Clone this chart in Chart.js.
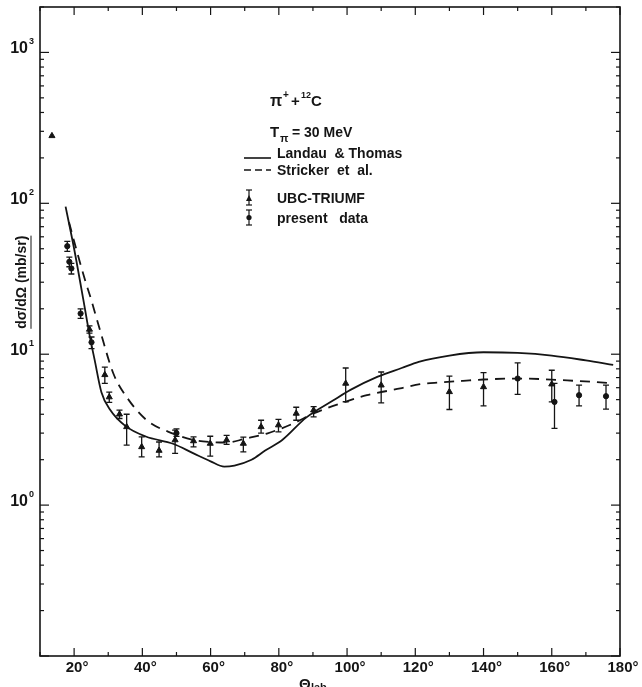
<!DOCTYPE html>
<html>
<head>
<meta charset="utf-8">
<script src="https://cdn.jsdelivr.net/npm/chart.js@4"></script>
<style>
html, body { margin: 0; padding: 0; background: #fff; }
</style>
</head>
<body>
<canvas id="chart" width="642" height="687"></canvas>
<script>
// courbe Landau & Thomas (trait plein)
const landauAngles = [17.5, 20, 22.7, 24.5, 26, 28, 30.5, 35, 41, 49, 55, 60, 64, 67, 72, 76, 81, 88, 96, 101, 109, 116, 121, 130, 140, 150, 160, 170, 178];
const landauValues = [95, 50, 23, 13.5, 9.2, 5.6, 4.3, 3.35, 2.85, 2.55, 2.2, 1.95, 1.8, 1.83, 2.0, 2.3, 2.7, 3.8, 4.95, 5.8, 7.1, 8.1, 8.9, 9.8, 10.3, 10.2, 9.8, 9.1, 8.5];

// courbe Stricker et al. (tirets)
const strickerAngles = [18.5, 20, 23.2, 25, 27.6, 31.5, 35.4, 41.3, 49, 55, 60, 65, 70, 76.5, 84.3, 90.2, 98, 105.8, 115.6, 121.4, 127.3, 134, 140, 150, 157.6, 164.5, 172.3, 178];
const strickerValues = [75, 56, 31, 23, 14.4, 7.45, 5.2, 3.65, 2.98, 2.7, 2.62, 2.6, 2.75, 2.98, 3.48, 4.05, 4.71, 5.35, 5.93, 6.33, 6.5, 6.66, 6.8, 6.9, 6.83, 6.7, 6.55, 6.4];

// UBC-TRIUMF (triangles)
const ubcAngles = [13.5, 24.5, 29, 30.3, 33.3, 35.4, 39.8, 44.9, 49.6, 55, 59.9, 64.7, 69.6, 74.8, 79.9, 85.1, 90.2, 99.6, 110, 130, 140, 160];
const ubcValues = [280, 14.6, 7.3, 5.2, 4.0, 3.3, 2.43, 2.3, 2.7, 2.66, 2.56, 2.7, 2.56, 3.3, 3.39, 4.05, 4.26, 6.4, 6.23, 5.63, 6.07, 6.33];
const ubcLow = [280, 13.8, 6.4, 4.8, 3.75, 2.5, 2.09, 2.09, 2.2, 2.43, 2.11, 2.53, 2.25, 3.0, 3.06, 3.65, 3.84, 4.84, 4.76, 4.3, 4.55, 4.83];
const ubcHigh = [280, 15.4, 8.2, 5.6, 4.26, 4.0, 2.83, 2.62, 3.14, 2.83, 2.86, 2.9, 2.82, 3.65, 3.7, 4.45, 4.5, 8.1, 7.62, 7.15, 7.56, 7.83];

// present data (points)
const presentAngles = [18, 18.6, 19.2, 21.9, 25.1, 50, 150, 160.8, 168, 175.9];
const presentValues = [52, 41, 37, 18.6, 12, 3.0, 6.9, 4.83, 5.35, 5.27];
const presentLow = [48, 38, 34, 17.3, 10.9, 2.85, 5.41, 3.22, 4.55, 4.32];
const presentHigh = [56, 44, 40, 20, 13.0, 3.2, 8.75, 6.4, 6.23, 6.23];

// graduations
const xTickValues = [20, 40, 60, 80, 100, 120, 140, 160, 180];
const yTickValues = [1, 10, 100, 1000];
const yTickExponents = ["0", "1", "2", "3"];

const ink = "#151515";
const font = '"Liberation Sans", Arial, sans-serif';

function toPoints(xs, ys) {
    return xs.map((x, i) => ({ x: x, y: ys[i] }));
}

// barres d'erreur
const errorBars = {
    id: "errorBars",
    afterDatasetsDraw(chart) {
        const ctx = chart.ctx;
        const xs = chart.scales.x;
        const ys = chart.scales.y;
        ctx.save();
        ctx.strokeStyle = ink;
        ctx.lineWidth = 1.3;
        chart.data.datasets.forEach((ds) => {
            if (!ds.errLow) return;
            ds.data.forEach((p, i) => {
                const lo = ds.errLow[i];
                const hi = ds.errHigh[i];
                if (lo === hi) return;
                const px = xs.getPixelForValue(p.x);
                const y1 = ys.getPixelForValue(lo);
                const y2 = ys.getPixelForValue(hi);
                ctx.beginPath();
                ctx.moveTo(px, y1);
                ctx.lineTo(px, y2);
                ctx.moveTo(px - 3, y1);
                ctx.lineTo(px + 3, y1);
                ctx.moveTo(px - 3, y2);
                ctx.lineTo(px + 3, y2);
                ctx.stroke();
            });
        });
        ctx.restore();
    },
};

function seg(ctx, x1, y1, x2, y2) {
    ctx.beginPath();
    ctx.moveTo(x1, y1);
    ctx.lineTo(x2, y2);
    ctx.stroke();
}

function drawPower(ctx, x, y, exp) {
    // "10" avec exposant, aligné à droite sur x
    ctx.font = "bold 16px " + font;
    const w = ctx.measureText("10").width;
    ctx.font = "bold 9px " + font;
    const we = ctx.measureText(exp).width;
    ctx.textAlign = "left";
    ctx.textBaseline = "middle";
    ctx.font = "bold 16px " + font;
    ctx.fillText("10", x - w - we - 1, y);
    ctx.font = "bold 9px " + font;
    ctx.fillText(exp, x - we, y - 7);
}

// cadre, graduations internes et textes
const frameAndText = {
    id: "frameAndText",
    afterDraw(chart) {
        const ctx = chart.ctx;
        const xs = chart.scales.x;
        const ys = chart.scales.y;
        const a = chart.chartArea;
        ctx.save();
        ctx.strokeStyle = ink;
        ctx.fillStyle = ink;
        ctx.lineWidth = 1.6;
        ctx.strokeRect(a.left, a.top, a.right - a.left, a.bottom - a.top);

        ctx.lineWidth = 1.2;
        for (let t = 10; t <= 180; t += 10) {
            const px = xs.getPixelForValue(t);
            const len = t % 20 === 0 ? 8 : 4;
            seg(ctx, px, a.bottom, px, a.bottom - len);
            seg(ctx, px, a.top, px, a.top + len);
        }
        for (let e = -1; e <= 3; e++) {
            for (let m = 1; m <= 9; m++) {
                const v = m * Math.pow(10, e);
                if (v < ys.min || v > ys.max) continue;
                const py = ys.getPixelForValue(v);
                const len = m === 1 ? 9 : 4;
                seg(ctx, a.left, py, a.left + len, py);
                seg(ctx, a.right, py, a.right - len, py);
            }
        }

        // étiquettes x
        ctx.font = "bold 15px " + font;
        ctx.textAlign = "center";
        ctx.textBaseline = "top";
        xTickValues.forEach((t) => {
            ctx.fillText(t + "°", xs.getPixelForValue(t) + 3, a.bottom + 4);
        });

        // étiquettes y
        yTickValues.forEach((v, i) => {
            drawPower(ctx, a.left - 6, ys.getPixelForValue(v) - 4, yTickExponents[i]);
        });

        // titre axe x
        const tx = xs.getPixelForValue(90);
        ctx.font = "bold 15px " + font;
        ctx.textAlign = "left";
        ctx.textBaseline = "alphabetic";
        ctx.fillText("Θ", tx - 14, a.bottom + 33);
        ctx.font = "bold 11px " + font;
        ctx.fillText("lab", tx - 2, a.bottom + 35);

        // titre axe y (souligné)
        ctx.save();
        ctx.translate(22, ys.getPixelForValue(30));
        ctx.rotate(-Math.PI / 2);
        ctx.font = "bold 14px " + font;
        ctx.textAlign = "center";
        ctx.textBaseline = "middle";
        const title = "dσ/dΩ (mb/sr)";
        ctx.fillText(title, 0, 0);
        const tw = ctx.measureText(title).width;
        ctx.lineWidth = 1;
        seg(ctx, -tw / 2, 9, tw / 2, 9);
        ctx.restore();

        // réaction et énergie
        ctx.textAlign = "left";
        ctx.textBaseline = "alphabetic";
        ctx.font = "bold 16px " + font;
        ctx.fillText("π", 270, 106);
        ctx.font = "bold 10px " + font;
        ctx.fillText("+", 283, 98);
        ctx.font = "bold 15px " + font;
        ctx.fillText("+", 291, 106);
        ctx.font = "bold 9px " + font;
        ctx.fillText("12", 301, 98);
        ctx.font = "bold 15px " + font;
        ctx.fillText("C", 311, 106);

        ctx.font = "bold 15px " + font;
        ctx.fillText("T", 270, 137);
        ctx.font = "bold 11px " + font;
        ctx.fillText("π", 280, 142);
        ctx.font = "bold 14px " + font;
        ctx.fillText("= 30 MeV", 292, 137);

        // légende
        const lx = 244;
        ctx.font = "bold 14px " + font;
        ctx.lineWidth = 1.6;
        seg(ctx, lx, 158, lx + 27, 158);
        ctx.fillText("Landau  & Thomas", lx + 33, 158);
        ctx.setLineDash([7, 4]);
        seg(ctx, lx, 170, lx + 27, 170);
        ctx.setLineDash([]);
        ctx.fillText("Stricker  et  al.", lx + 33, 175);
        ctx.fillText("UBC-TRIUMF", lx + 33, 203);
        ctx.fillText("present   data", lx + 33, 223);

        ctx.lineWidth = 1.2;
        const mx = lx + 5;
        seg(ctx, mx, 190, mx, 205);
        seg(ctx, mx - 3, 190, mx + 3, 190);
        seg(ctx, mx - 3, 205, mx + 3, 205);
        ctx.beginPath();
        ctx.moveTo(mx, 195);
        ctx.lineTo(mx - 3, 201);
        ctx.lineTo(mx + 3, 201);
        ctx.closePath();
        ctx.fill();
        seg(ctx, mx, 210, mx, 225);
        seg(ctx, mx - 3, 210, mx + 3, 210);
        seg(ctx, mx - 3, 225, mx + 3, 225);
        ctx.beginPath();
        ctx.arc(mx, 217.5, 2.6, 0, Math.PI * 2);
        ctx.fill();
        ctx.restore();
    },
};

new Chart(document.getElementById("chart"), {
    type: "line",
    data: {
        datasets: [
            {
                label: "Landau & Thomas",
                data: toPoints(landauAngles, landauValues),
                borderColor: ink,
                borderWidth: 1.8,
                pointRadius: 0,
                cubicInterpolationMode: "monotone",
                fill: false,
            },
            {
                label: "Stricker et al.",
                data: toPoints(strickerAngles, strickerValues),
                borderColor: ink,
                borderWidth: 1.8,
                borderDash: [10, 7],
                pointRadius: 0,
                cubicInterpolationMode: "monotone",
                fill: false,
            },
            {
                type: "scatter",
                label: "UBC-TRIUMF",
                data: toPoints(ubcAngles, ubcValues),
                errLow: ubcLow,
                errHigh: ubcHigh,
                pointStyle: "triangle",
                pointRadius: 3.5,
                backgroundColor: ink,
                borderColor: ink,
                borderWidth: 1,
            },
            {
                type: "scatter",
                label: "present data",
                data: toPoints(presentAngles, presentValues),
                errLow: presentLow,
                errHigh: presentHigh,
                pointStyle: "circle",
                pointRadius: 2.6,
                backgroundColor: ink,
                borderColor: ink,
                borderWidth: 1,
            },
        ],
    },
    options: {
        responsive: false,
        animation: false,
        devicePixelRatio: 1,
        layout: { padding: { top: 7, right: 22, left: 0, bottom: 0 } },
        plugins: {
            legend: { display: false },
            tooltip: { enabled: false },
        },
        scales: {
            x: {
                type: "linear",
                min: 10,
                max: 180,
                ticks: { display: false },
                grid: { display: false },
                border: { display: false },
                afterFit: (s) => { s.height = 31; },
            },
            y: {
                type: "logarithmic",
                min: 0.1,
                max: 2000,
                ticks: { display: false },
                grid: { display: false },
                border: { display: false },
                afterFit: (s) => { s.width = 40; },
            },
        },
    },
    plugins: [errorBars, frameAndText],
});
</script>
</body>
</html>
